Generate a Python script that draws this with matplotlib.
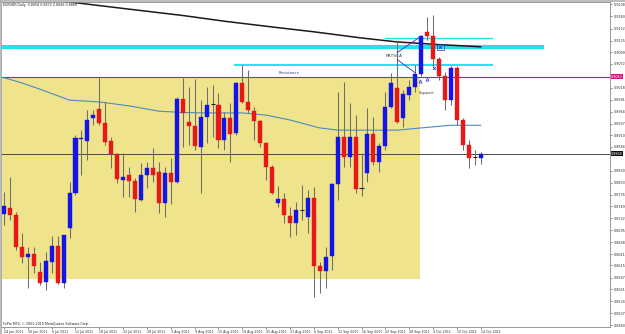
import numpy as np
import pandas as pd
import matplotlib
matplotlib.use("Agg")
import matplotlib.pyplot as plt
from matplotlib.patches import Rectangle
import matplotlib.transforms as mtransforms

title_text = "EURGBP,Daily  0.8858 0.8872 0.8846 0.8868"
copyright_text = "FxPro MT4, \u00a9 2001-2010 MetaQuotes Software Corp."

dates = pd.bdate_range("2011-06-24", "2011-10-14")

opens = [0.8732, 0.8745, 0.8730, 0.8657, 0.8634, 0.8641, 0.8600, 0.8577, 0.8623, 0.8659,
         0.8575, 0.8700, 0.8779, 0.8902, 0.8897, 0.8950, 0.8970, 0.8938, 0.8897, 0.8868,
         0.8809, 0.8820, 0.8807, 0.8764, 0.8820, 0.8836, 0.8827, 0.8757, 0.8825, 0.8804,
         0.8993, 0.8940, 0.8931, 0.8884, 0.8952, 0.8981, 0.8979, 0.8900, 0.8950, 0.8916,
         0.9029, 0.8986, 0.8965, 0.8943, 0.8893, 0.8838, 0.8757, 0.8766, 0.8727, 0.8711,
         0.8741, 0.8725, 0.8768, 0.8614, 0.8603, 0.8637, 0.8800, 0.8906, 0.8861, 0.8906,
         0.8791, 0.8825, 0.8913, 0.8850, 0.8886, 0.8974, 0.9018, 0.8950, 0.9002, 0.9020,
         0.9049, 0.9145, 0.9136, 0.9083, 0.9045, 0.8990, 0.9063, 0.8945, 0.8888, 0.8861,
         0.8858]
highs = [0.8782, 0.8816, 0.8736, 0.8689, 0.8657, 0.8657, 0.8623, 0.8646, 0.8682, 0.8682,
         0.8684, 0.8804, 0.8911, 0.8922, 0.8968, 0.8968, 0.9043, 0.8986, 0.8906, 0.8870,
         0.8870, 0.8838, 0.8813, 0.8847, 0.8850, 0.8881, 0.8850, 0.8838, 0.8859, 0.8997,
         0.9040, 0.9020, 0.9038, 0.8990, 0.9020, 0.9024, 0.9006, 0.8963, 0.8984, 0.9031,
         0.9070, 0.9058, 0.8974, 0.8945, 0.8895, 0.8843, 0.8795, 0.8779, 0.8748, 0.8759,
         0.8798, 0.8786, 0.8793, 0.8623, 0.8657, 0.8802, 0.9008, 0.9031, 0.8984, 0.8956,
         0.8870, 0.8972, 0.8952, 0.8893, 0.9008, 0.9052, 0.9122, 0.9013, 0.9036, 0.9070,
         0.9136, 0.9179, 0.9183, 0.9088, 0.9054, 0.9067, 0.9067, 0.8950, 0.8900, 0.8877,
         0.8872]
lows = [0.8707, 0.8718, 0.8650, 0.8621, 0.8564, 0.8598, 0.8571, 0.8559, 0.8598, 0.8573,
        0.8564, 0.8677, 0.8775, 0.8820, 0.8854, 0.8934, 0.8934, 0.8888, 0.8836, 0.8802,
        0.8770, 0.8770, 0.8736, 0.8761, 0.8791, 0.8804, 0.8734, 0.8725, 0.8754, 0.8802,
        0.8884, 0.8888, 0.8877, 0.8779, 0.8893, 0.8906, 0.8881, 0.8877, 0.8850, 0.8911,
        0.8984, 0.8961, 0.8900, 0.8884, 0.8809, 0.8777, 0.8748, 0.8711, 0.8680, 0.8684,
        0.8718, 0.8689, 0.8544, 0.8553, 0.8564, 0.8605, 0.8764, 0.8838, 0.8838, 0.8779,
        0.8773, 0.8804, 0.8843, 0.8827, 0.8877, 0.8972, 0.8938, 0.8929, 0.8990, 0.9008,
        0.9045, 0.9126, 0.9065, 0.9036, 0.8968, 0.8979, 0.8934, 0.8877, 0.8836, 0.8843,
        0.8846]
closes = [0.8750, 0.8730, 0.8657, 0.8634, 0.8641, 0.8614, 0.8575, 0.8625, 0.8659, 0.8575,
          0.8684, 0.8779, 0.8904, 0.8904, 0.8945, 0.8956, 0.8938, 0.8895, 0.8868, 0.8811,
          0.8816, 0.8807, 0.8766, 0.8820, 0.8836, 0.8820, 0.8757, 0.8825, 0.8804, 0.8993,
          0.8961, 0.8931, 0.8886, 0.8952, 0.8979, 0.8981, 0.8900, 0.8950, 0.8913, 0.9029,
          0.8986, 0.8968, 0.8943, 0.8893, 0.8838, 0.8779, 0.8766, 0.8730, 0.8711, 0.8741,
          0.8741, 0.8768, 0.8614, 0.8603, 0.8634, 0.8800, 0.8906, 0.8861, 0.8906, 0.8789,
          0.8791, 0.8913, 0.8850, 0.8886, 0.8974, 0.9029, 0.8940, 0.9004, 0.9020, 0.9049,
          0.9136, 0.9136, 0.9083, 0.9045, 0.8990, 0.9063, 0.8945, 0.8888, 0.8859, 0.8861,
          0.8868]

# moving averages read at a few bars
ma_slow_bar = [10, 12, 20, 30, 37, 45, 52, 60, 66, 73, 80]
ma_slow_val = [0.9214, 0.9211, 0.9198, 0.9182, 0.9169, 0.9156, 0.9145, 0.9131, 0.9122, 0.9116, 0.9111]
ma_fast_bar = [0, 3, 6, 10, 11, 16, 21, 26, 30, 34, 40, 44, 48, 53, 56, 62, 66, 70, 75, 80]
ma_fast_val = [0.9041, 0.9029, 0.9015, 0.8995, 0.8990, 0.8986, 0.8977, 0.8965, 0.8962, 0.8961,
               0.8961, 0.8956, 0.8945, 0.8927, 0.8922, 0.8922, 0.8922, 0.8927, 0.8933, 0.8933]

price_ticks = [0.9208, 0.9180, 0.9152, 0.9125, 0.9099, 0.9072, 0.9018, 0.8991, 0.8964,
               0.8937, 0.8910, 0.8884, 0.8830, 0.8803, 0.8776, 0.8749, 0.8722, 0.8695,
               0.8668, 0.8641, 0.8615, 0.8587, 0.8561, 0.8534, 0.8507, 0.8480]

resistance_level = 0.9043
zone_top = 0.9043
zone_bottom = 0.8584
zone_end_bar = 69.8
cyan_main = 0.9111
cyan_upper = 0.9131
cyan_lower = 0.9070

up_col = "#1414e6"
dn_col = "#e61818"
wick_col = "#6e6e6e"

x = np.arange(len(dates))
o = np.array(opens)
h = np.array(highs)
l = np.array(lows)
c = np.array(closes)

fig = plt.figure(figsize=(6.25, 3.34), dpi=100)
fig.patch.set_facecolor("white")
ax = fig.add_axes([1 / 625, 7 / 334, 609 / 625, 325 / 334])
ax.set_facecolor("white")

# support / resistance zone
ax.add_patch(Rectangle((-5, zone_bottom), zone_end_bar + 5, zone_top - zone_bottom,
                       facecolor="#efe38c", edgecolor="none", zorder=0))

# horizontal objects
ax.axhline(resistance_level, color="#c8187a", lw=0.8, zorder=1)
ax.axhline(c[-1], color="#303030", lw=0.6, zorder=1)
ax.plot([-5, 90.3], [cyan_main, cyan_main], color="#1ee4f0", lw=3.0, zorder=1)
ax.plot([63.9, 81.9], [cyan_upper, cyan_upper], color="#1ee4f0", lw=1.0, zorder=1)
ax.plot([38.8, 81.9], [cyan_lower, cyan_lower], color="#1ee4f0", lw=1.4, zorder=1)

# moving averages
ax.plot(ma_fast_bar, ma_fast_val, color="#4a8cc0", lw=0.8, zorder=2)
ax.plot(ma_slow_bar, ma_slow_val, color="#1a1a1a", lw=1.1, zorder=2)

# candles
ax.vlines(x, l, h, color=wick_col, lw=0.75, zorder=3)
up = c > o
dn = c < o
flat = c == o
w = 0.68
ax.bar(x[up], (c - o)[up], bottom=o[up], width=w, color=up_col, edgecolor=up_col, lw=0.3, zorder=4)
ax.bar(x[dn], (o - c)[dn], bottom=c[dn], width=w, color=dn_col, edgecolor=dn_col, lw=0.3, zorder=4)
ax.hlines(c[flat], x[flat] - w / 2, x[flat] + w / 2, color="#202020", lw=0.8, zorder=4)

# annotations
ax.text(47.9, 0.9052, "Resistance", fontsize=2.8, color="#404040", ha="center", va="center", zorder=5)
ax.text(71.0, 0.9006, "Support", fontsize=2.8, color="#404040", ha="center", va="center", zorder=5)
ax.text(65.5, 0.9089, "PBTSCA", fontsize=3.2, color="#404040", ha="center", va="center", zorder=5)
ax.plot([66.0, 70.1], [0.9098, 0.9136], color="#2a2ad0", lw=0.6, zorder=5)
ax.plot([66.0, 69.0], [0.9082, 0.9052], color="#2a2ad0", lw=0.6, zorder=5)
ax.plot([72.2], [0.9064], marker="x", ms=2, color="#2a2ad0", mew=0.6, zorder=5)
ax.plot([73.2], [0.9110], marker="x", ms=2, color="#2a2ad0", mew=0.6, zorder=5)
ax.add_patch(Rectangle((72.6, 0.9103), 1.2, 0.0014, facecolor="none", edgecolor="#2a2ad0", lw=0.5, zorder=5))
ax.plot([69.8, 71.0], [0.9033, 0.9037], marker="^", ls="none", ms=2.2, mfc="none",
        mec="#2a2ad0", mew=0.5, zorder=5)

ax.set_xlim(-0.5, 101.7)
ax.set_ylim(0.84755, 0.92126)

# price axis
ax.yaxis.tick_right()
ax.set_yticks(price_ticks)
ax.set_yticklabels([f"{v:.4f}" for v in price_ticks])
ax.tick_params(axis="y", length=1.5, width=0.4, labelsize=2.4, pad=1, colors="#303030")

# time axis
tick_bars = x[::4]
ax.set_xticks(tick_bars)
ax.set_xticklabels([f"{d.day} {d:%b %Y}" for d in dates[::4]])
for lab in ax.get_xticklabels():
    lab.set_ha("left")
ax.tick_params(axis="x", length=1.5, width=0.4, labelsize=2.3, pad=0.8, colors="#303030")

for s in ax.spines.values():
    s.set_color("#8a8a8a")
    s.set_linewidth(0.6)

# axis boxes for line prices
trans = mtransforms.blended_transform_factory(ax.transAxes, ax.transData)
ax.text(1.002, resistance_level, f"{resistance_level:.4f}", transform=trans, fontsize=2.4,
        color="white", va="center", ha="left",
        bbox=dict(boxstyle="square,pad=0.15", fc="#c8187a", ec="none"), zorder=6)
ax.text(1.002, c[-1], f"{c[-1]:.4f}", transform=trans, fontsize=2.4,
        color="white", va="center", ha="left",
        bbox=dict(boxstyle="square,pad=0.15", fc="#101010", ec="none"), zorder=6)

ax.text(0.003, 0.996, title_text, transform=ax.transAxes, fontsize=2.3, color="#202020",
        ha="left", va="top", zorder=6)
ax.text(0.003, 0.004, copyright_text, transform=ax.transAxes, fontsize=2.3, color="#202020",
        ha="left", va="bottom", zorder=6)

# window frame
fig.add_artist(plt.Line2D([0, 1], [0.997, 0.997], transform=fig.transFigure, color="#b0b0b0", lw=1.2))
fig.add_artist(plt.Line2D([0.001, 0.001], [0, 1], transform=fig.transFigure, color="#b0b0b0", lw=1.2))

fig.savefig("out.png", dpi=100)
